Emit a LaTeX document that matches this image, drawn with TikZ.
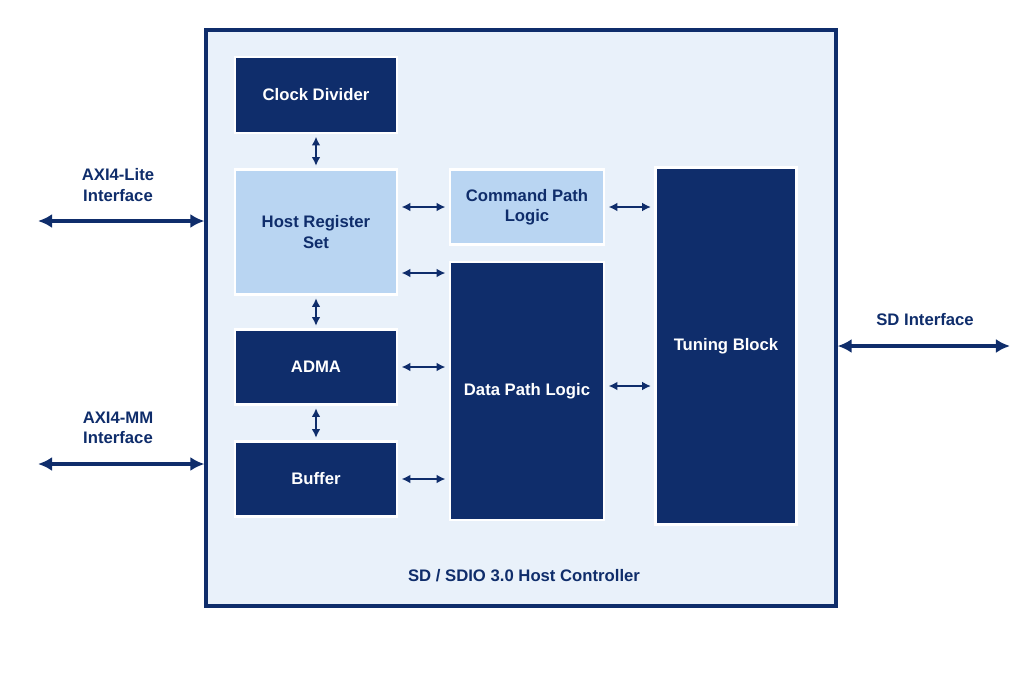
\documentclass[tikz,border=0pt]{standalone}
\usepackage{fontspec}
\setmainfont{Liberation Sans}
\usetikzlibrary{arrows.meta, positioning}
\definecolor{navy}{HTML}{0F2D6B}
\definecolor{pale}{HTML}{E9F1FA}
\definecolor{lightblk}{HTML}{B9D5F2}
\tikzset{
  dark/.style = {rectangle, draw=white, line width=1.2pt, fill=navy, text=white, font=\bfseries\fontsize{9.5}{11.5}\selectfont, align=center, inner sep=0pt},
  light/.style = {rectangle, draw=white, line width=1.2pt, fill=lightblk, text=navy, font=\bfseries\fontsize{9.5}{11.5}\selectfont, align=center, inner sep=0pt},
  lbl/.style = {text=navy, font=\bfseries\fontsize{9.5}{11.5}\selectfont, align=center},
  arrow/.style = {navy, line width=1.3pt, {Latex[length=5pt,width=5pt]}-{Latex[length=5pt,width=5pt]}},
  bigarrow/.style = {navy, line width=2.2pt, {Latex[length=8pt,width=8pt]}-{Latex[length=8pt,width=8pt]}}
}
\begin{document}
\begin{tikzpicture}[x=0.02cm, y=-0.02cm]

\useasboundingbox (0,0) rectangle (1024,680);

%% NODES

\node (ctrl) [draw=navy, line width=1.8pt, fill=pale, minimum width=630*0.02cm, minimum height=576*0.02cm, inner sep=0pt] at (521,318) {};
\node (clk) [dark, minimum width=162*0.02cm, minimum height=76*0.02cm] at (316,95) {Clock Divider};
\node (host) [light, minimum width=162*0.02cm, minimum height=125*0.02cm] at (316,232) {Host Register\\Set};
\node (adma) [dark, minimum width=162*0.02cm, minimum height=75*0.02cm] at (316,367) {ADMA};
\node (buf) [dark, minimum width=162*0.02cm, minimum height=75*0.02cm] at (316,479) {Buffer};
\node (cmd) [light, minimum width=154*0.02cm, minimum height=75*0.02cm] at (527,207) {Command Path\\Logic};
\node (data) [dark, minimum width=154*0.02cm, minimum height=258*0.02cm] at (527,391) {Data Path Logic};
\node (tune) [dark, minimum width=141*0.02cm, minimum height=357*0.02cm] at (726,346) {Tuning Block};
\node (title) [lbl] at (524,576) {SD / SDIO 3.0 Host Controller};

\node (axil) [lbl] at (118,185) {AXI4-Lite\\Interface};
\node (axim) [lbl] at (118,428) {AXI4-MM\\Interface};
\node (sd) [lbl] at (925,320) {SD Interface};
\coordinate (axilend) at (38,221);
\coordinate (aximend) at (38,464);
\coordinate (sdend) at (1010,346);

%% ARROWS

\draw [arrow] ([yshift=-1.5pt]clk.south) -- ([yshift=1.5pt]host.north);
\draw [arrow] ([yshift=-1.5pt]host.south) -- ([yshift=1.5pt]adma.north);
\draw [arrow] ([yshift=-1.5pt]adma.south) -- ([yshift=1.5pt]buf.north);
\draw [arrow] ([xshift=2pt]host.east |- cmd.west) -- ([xshift=-2pt]cmd.west);
\draw [arrow] ([xshift=2pt]host.east |- 0,273) -- ([xshift=-2pt]data.west |- 0,273);
\draw [arrow] ([xshift=2pt]adma.east) -- ([xshift=-2pt]data.west |- adma.east);
\draw [arrow] ([xshift=2pt]buf.east) -- ([xshift=-2pt]data.west |- buf.east);
\draw [arrow] ([xshift=2pt]cmd.east) -- ([xshift=-2pt]tune.west |- cmd.east);
\draw [arrow] ([xshift=2pt]data.east |- 0,386) -- ([xshift=-2pt]tune.west |- 0,386);
\draw [bigarrow] (axilend) -- (ctrl.west |- axilend);
\draw [bigarrow] (aximend) -- (ctrl.west |- aximend);
\draw [bigarrow] (ctrl.east |- sdend) -- (sdend);

\end{tikzpicture}
\end{document}
